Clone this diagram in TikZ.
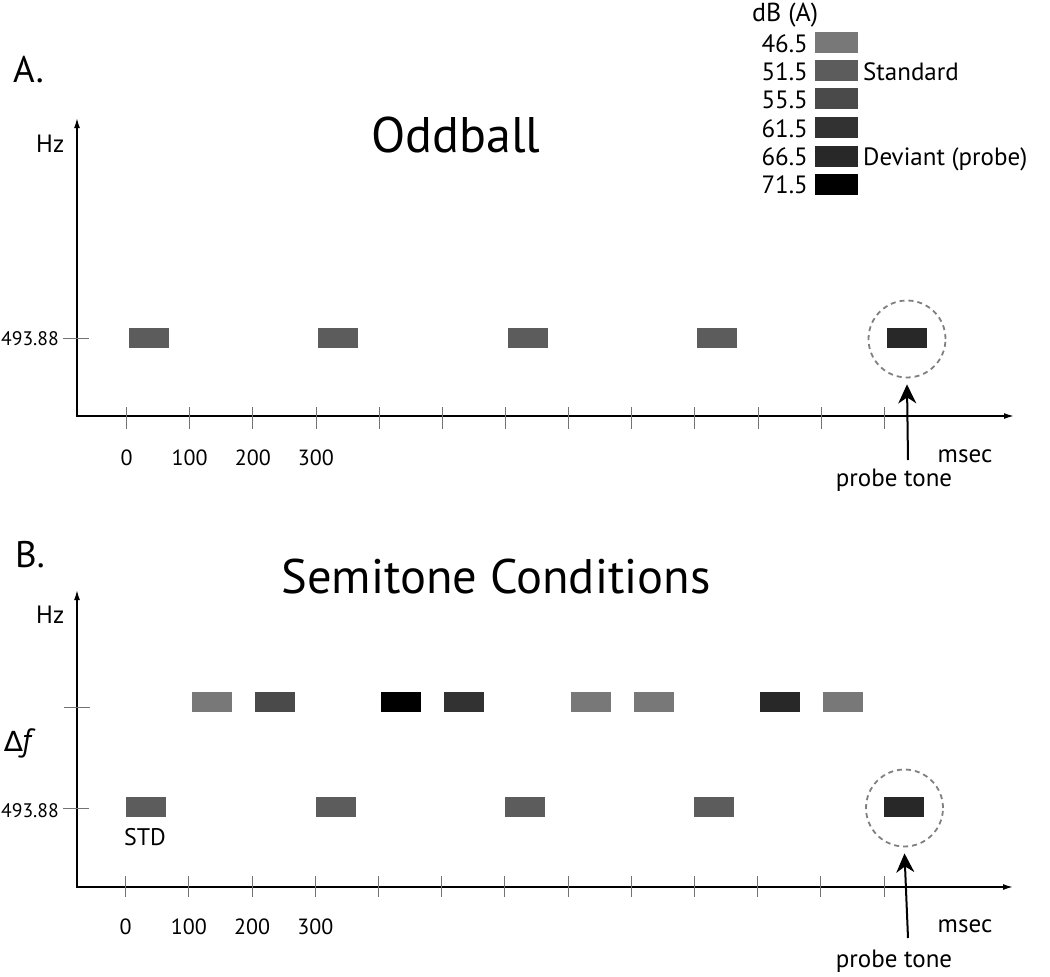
\documentclass[tikz,border=0pt]{standalone}
\usepackage{fontspec}
\setmainfont{PT Sans}
\newfontfamily\djv{DejaVu Sans}
\usetikzlibrary{arrows.meta}
\definecolor{c465}{HTML}{787878}
\definecolor{c515}{HTML}{5C5C5C}
\definecolor{c555}{HTML}{4A4A4A}
\definecolor{c615}{HTML}{323232}
\definecolor{c665}{HTML}{282828}
\definecolor{c715}{HTML}{000000}
\begin{document}
\begin{tikzpicture}[x=1pt,y=-1pt,
  tone/.style={minimum width=40pt,minimum height=20pt,inner sep=0pt,draw=none,fill=#1},
  leg/.style={minimum width=43pt,minimum height=21pt,inner sep=0pt,draw=none,fill=#1},
  axis/.style={line width=1.5pt,-{Latex[length=10pt,width=6pt]}},
  tk/.style={line width=0.9pt,draw=black!55},
  ring/.style={circle,draw=black!50,dash pattern=on 5pt off 4pt,line width=1.8pt,minimum size=77pt,inner sep=0pt},
  probe/.style={line width=2pt,-{Stealth[length=19pt,width=18pt,inset=6pt]}},
  big/.style={font=\fontsize{50}{50}\selectfont,inner sep=0pt,anchor=base},
  num/.style={font=\fontsize{22}{22}\selectfont,inner sep=0pt,anchor=base},
  lab/.style={font=\fontsize{25}{25}\selectfont,inner sep=0pt,anchor=base},
  legn/.style={font=\fontsize{25}{25}\selectfont,inner sep=0pt,anchor=base east},
  sml/.style={font=\fontsize{19.6}{19.6}\selectfont,inner sep=0pt,anchor=base east},
  pan/.style={font=\fontsize{37}{37}\selectfont,inner sep=0pt,anchor=base west}
]
\useasboundingbox (0,0) rectangle (1050,977);

% ---------------- Legend ----------------
\node[lab,font=\fontsize{26}{26}\selectfont,anchor=base west] (dbA) at (752,21) {dB (A)};
\foreach \v/\c/\y/\b [count=\i] in {46.5/c465/42.5/52, 51.5/c515/70.5/80, 55.5/c555/98.5/108, 61.5/c615/127.5/137, 66.5/c665/156.5/165, 71.5/c715/184.5/193}{
  \node[leg=\c] (lg\i) at (836.5,\y) {};
  \node[legn] (lv\i) at (808,\b) {\v};
}
\node[lab,anchor=base west] (lstd) at (863,80) {Standard};
\node[lab,anchor=base west] (ldev) at (863,165) {Deviant (probe)};

% ---------------- Panel A ----------------
\node[pan] (pA) at (13,82) {A.};
\node[big] (tA) at (456,152) {Oddball};
\coordinate (oA) at (77,416);
\coordinate (yA) at (77,118);
\coordinate (xA) at (1014,416);
\draw[axis] (77,417) -- (yA);
\draw[axis] (oA) -- (xA);
\node[lab,anchor=base west] (hzA) at (36,152) {Hz};
\draw[tk] (63,338) -- (89,338);
\node[sml] (fA) at (59,345) {493.88};
\foreach \i in {0,...,12}{
  \draw[tk] ({126.5+63.15*\i},407) -- ({126.5+63.15*\i},429);
}
\foreach \t/\k in {0/0,100/1,200/2,300/3}{
  \node[num] (xlA\k) at ({126.5+63.15*\k},465) {\t};
}
\foreach \x [count=\i] in {148.5,338,527.5,717}{
  \node[tone=c515] (sA\i) at (\x,338) {};
}
\node[tone=c665] (pbA) at (907,338) {};
\node[ring] (rA) at (907,339) {};
\coordinate (aA) at (908,460);
\draw[probe] (aA) -- ([yshift=-6pt]rA.south);
\node[lab] (msA) at (965,462) {msec};
\node[lab] (ptA) at (894,486) {probe tone};

% ---------------- Panel B ----------------
\node[pan] (pB) at (15,567) {B.};
\node[big,font=\fontsize{48.5}{48.5}\selectfont] (tB) at (496,593) {Semitone Conditions};
\coordinate (oB) at (77,887);
\coordinate (yB) at (77,590);
\coordinate (xB) at (1013,887);
\draw[axis] (77,888) -- (yB);
\draw[axis] (oB) -- (xB);
\node[lab,anchor=base west] (hzB) at (36,623) {Hz};
\draw[tk] (64,707) -- (90,707);
\node[inner sep=0pt,anchor=base west] (dfB) at (4,751) {{\djv\fontsize{28}{28}\selectfont ∆}\kern-1pt{\fontsize{32}{32}\selectfont\itshape f}};
\draw[tk] (63,808) -- (89,808);
\node[sml] (fB) at (59,817) {493.88};
\foreach \i in {0,...,12}{
  \draw[tk] ({125.7+63.2*\i},876) -- ({125.7+63.2*\i},897);
}
\foreach \t/\k in {0/0,100/1,200/2,300/3}{
  \node[num] (xlB\k) at ({125.7+63.2*\k},934) {\t};
}
\foreach \x [count=\i] in {146,335.5,524.5,714}{
  \node[tone=c515] (sB\i) at (\x,807) {};
}
\node[lab,font=\fontsize{24}{24}\selectfont] (std) at (145,845) {STD};
\foreach \x/\c [count=\i] in {211.5/c465,274.5/c555,401/c715,464/c615,591/c465,654/c465,780/c665,843/c465}{
  \node[tone=\c] (uB\i) at (\x,702) {};
}
\node[tone=c665] (pbB) at (904,807) {};
\node[ring] (rB) at (904.5,808) {};
\coordinate (aB) at (908,938);
\draw[probe] (aB) -- ([yshift=-6pt]rB.south);
\node[lab] (msB) at (965,932) {msec};
\node[lab] (ptB) at (894,967) {probe tone};
\end{tikzpicture}
\end{document}
